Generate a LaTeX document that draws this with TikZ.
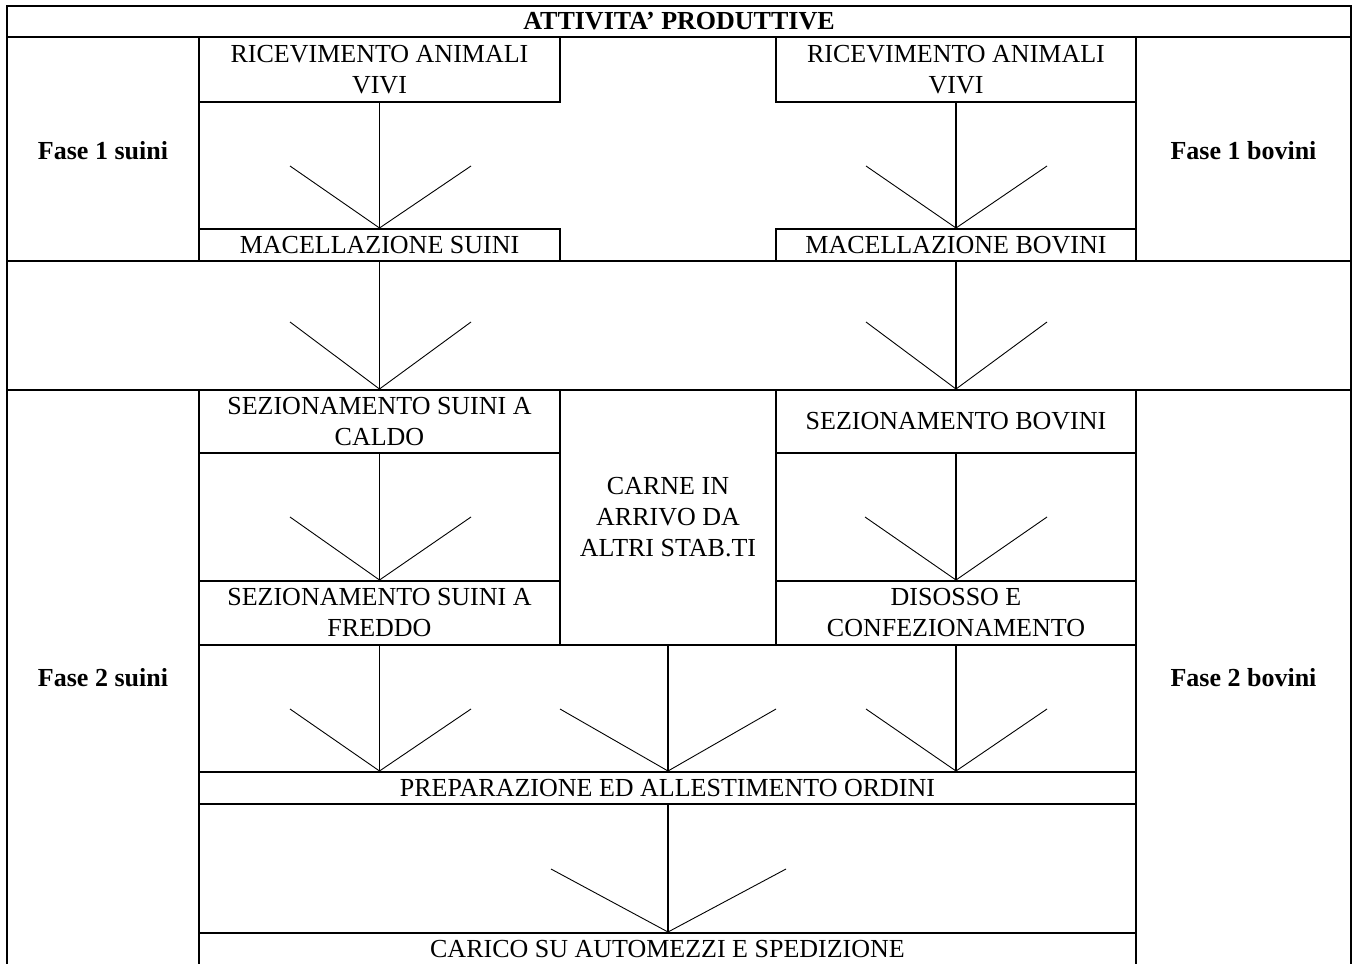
\documentclass[tikz,border=0pt]{standalone}
\usepackage{fontspec}
\setmainfont{Liberation Serif}
\begin{document}
\begin{tikzpicture}[x=1pt,y=-1pt,
  frame/.style={line width=2pt},
  box/.style={draw,line width=2pt,rectangle,inner sep=0pt,align=center,font=\fontsize{26}{31}\selectfont},
  txt/.style={inner sep=0pt,align=center,font=\fontsize{26}{31}\selectfont},
  lbl/.style={inner sep=0pt,align=center,font=\fontsize{26}{31}\selectfont\bfseries},
  stem/.style={line width=1.5pt},
  barb/.style={line width=0.9pt}]
\useasboundingbox (0,0) rectangle (1356,963);
\clip (0,0) rectangle (1356,963);
\fill[white] (0,0) rectangle (1356,963);

% table frame
\draw[frame] (7,990) -- (7,6) -- (1351,6) -- (1351,990);
\draw[frame] (7,37) -- (1351,37);
\draw[frame] (199,37) -- (199,261);
\draw[frame] (1136,37) -- (1136,261);
\draw[frame] (7,261) -- (1351,261);
\draw[frame] (7,390) -- (1351,390);
\draw[frame] (199,390) -- (199,990);
\draw[frame] (1136,390) -- (1136,990);
\draw[frame] (199,645) -- (1136,645);

% labels
\node[lbl] (title) at (679,21.5) {ATTIVITA’ PRODUTTIVE};
\node[lbl] (f1s) at (103,151) {Fase 1 suini};
\node[lbl] (f1b) at (1243.5,151) {Fase 1 bovini};
\node[lbl] (f2s) at (103,678) {Fase 2 suini};
\node[lbl] (f2b) at (1243.5,678) {Fase 2 bovini};

% boxes
\node[box,minimum width=361pt,minimum height=65pt] (ric1) at (379.5,69.5) {RICEVIMENTO ANIMALI\\VIVI};
\node[box,minimum width=361pt,minimum height=32pt] (mac1) at (379.5,245) {MACELLAZIONE SUINI};
\node[box,minimum width=360pt,minimum height=65pt] (ric2) at (956,69.5) {RICEVIMENTO ANIMALI\\VIVI};
\node[box,minimum width=360pt,minimum height=32pt] (mac2) at (956,245) {MACELLAZIONE BOVINI};

\node[box,minimum width=361pt,minimum height=63pt] (sez1) at (379.5,421.5) {SEZIONAMENTO SUINI A\\CALDO};
\node[box,minimum width=361pt,minimum height=64pt] (fre1) at (379.5,613) {SEZIONAMENTO SUINI A\\FREDDO};
\node[box,minimum width=216pt,minimum height=255pt] (carne) at (668,517.5) {CARNE IN\\ARRIVO DA\\ALTRI STAB.TI};
\node[box,minimum width=360pt,minimum height=63pt] (sezb) at (956,421.5) {SEZIONAMENTO BOVINI};
\node[box,minimum width=360pt,minimum height=64pt] (dis) at (956,613) {DISOSSO E\\CONFEZIONAMENTO};

\node[box,minimum width=937pt,minimum height=32pt] (prep) at (667.5,788) {PREPARAZIONE ED ALLESTIMENTO ORDINI};
\node[box,minimum width=937pt,minimum height=60pt,anchor=north] (carico) at (667.5,932) {};
\node[txt,anchor=base] (caricot) at (667.5,957) {CARICO SU AUTOMEZZI E SPEDIZIONE};

% connectors
\coordinate (t1l) at (290,166); \coordinate (t1r) at (471,166);
\coordinate (t2l) at (866,166); \coordinate (t2r) at (1047,166);
\coordinate (t3l) at (290,322); \coordinate (t3r) at (471,322);
\coordinate (t4l) at (866,322); \coordinate (t4r) at (1047,322);
\coordinate (t5l) at (290,517); \coordinate (t5r) at (471,517);
\coordinate (t6l) at (865,517); \coordinate (t6r) at (1047,517);
\coordinate (t7l) at (290,709); \coordinate (t7r) at (471,709);
\coordinate (t8l) at (560,709); \coordinate (t8r) at (776,709);
\coordinate (t9l) at (866,709); \coordinate (t9r) at (1047,709);
\coordinate (t10l) at (551,869); \coordinate (t10r) at (786,869);
\coordinate (p1) at (fre1.south |- prep.north);
\coordinate (p2) at (carne.south |- prep.north);
\coordinate (p3) at (dis.south |- prep.north);
\coordinate (p4) at (prep.south -| carne.south);
\coordinate (p5) at (carico.north -| carne.south);

\draw[stem] (ric1.south) -- (mac1.north);
\draw[barb] (t1l) -- (mac1.north) -- (t1r);
\draw[stem] (ric2.south) -- (mac2.north);
\draw[barb] (t2l) -- (mac2.north) -- (t2r);
\draw[stem] (mac1.south) -- (sez1.north);
\draw[barb] (t3l) -- (sez1.north) -- (t3r);
\draw[stem] (mac2.south) -- (sezb.north);
\draw[barb] (t4l) -- (sezb.north) -- (t4r);
\draw[stem] (sez1.south) -- (fre1.north);
\draw[barb] (t5l) -- (fre1.north) -- (t5r);
\draw[stem] (sezb.south) -- (dis.north);
\draw[barb] (t6l) -- (dis.north) -- (t6r);
\draw[stem] (fre1.south) -- (p1);
\draw[barb] (t7l) -- (p1) -- (t7r);
\draw[stem] (carne.south) -- (p2);
\draw[barb] (t8l) -- (p2) -- (t8r);
\draw[stem] (dis.south) -- (p3);
\draw[barb] (t9l) -- (p3) -- (t9r);
\draw[stem] (p4) -- (p5);
\draw[barb] (t10l) -- (p5) -- (t10r);
\end{tikzpicture}
\end{document}
